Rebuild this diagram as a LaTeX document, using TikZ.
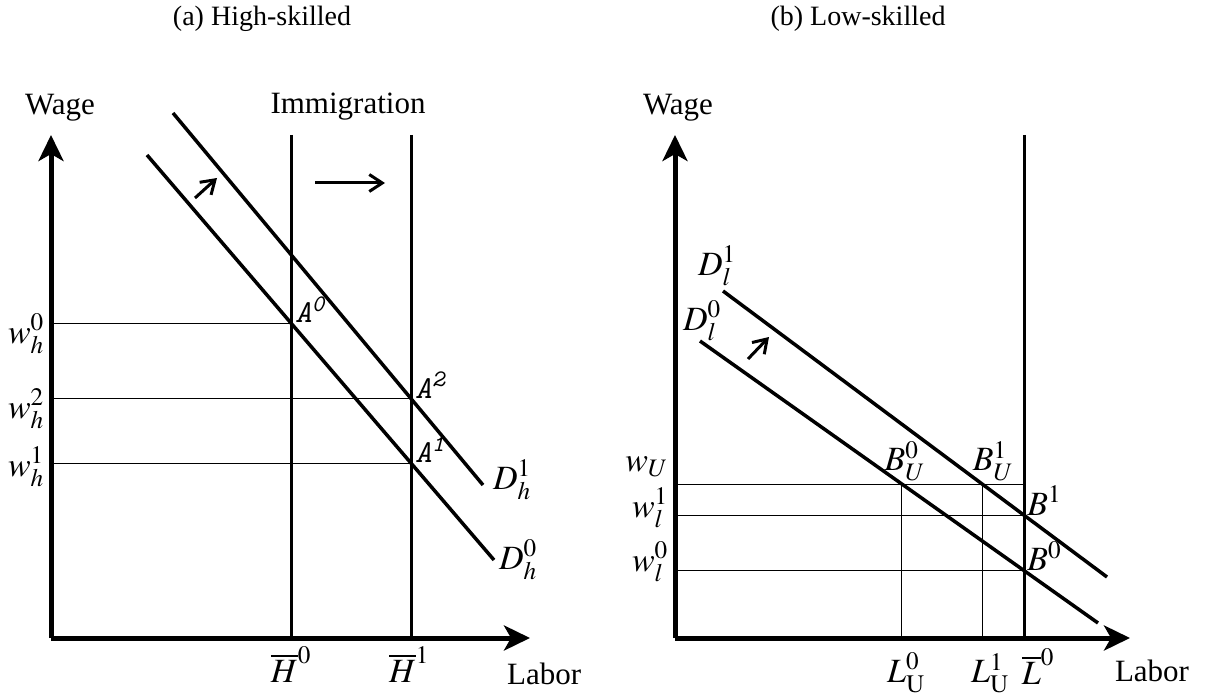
\documentclass[tikz,border=0pt]{standalone}
\usepackage{mathptmx}
\usepackage{fontspec}
\setmainfont{Liberation Serif}
\usetikzlibrary{arrows.meta, calc, positioning}
\tikzset{>=latex}
\tikzset{
  axisline/.style={line width=5pt, -{Stealth[length=26pt, width=25pt, inset=7pt]}},
  demand/.style={line width=3.5pt},
  stock/.style={line width=3pt},
  guide/.style={line width=1pt},
  shiftarrow/.style={line width=3pt, -{Straight Barb[length=13pt, width=17pt]}},
  lbl/.style={font=\fontsize{31}{36}\selectfont, inner sep=0pt},
  mlbl/.style={font=\fontsize{34}{38}\selectfont, inner sep=0pt},
  ttl/.style={font=\fontsize{28}{32}\selectfont, inner sep=0pt},
  pnt/.style={font=\fontsize{32}{36}\selectfont\ttfamily\itshape, inner sep=0pt, anchor=south west},
}

\begin{document}
\begin{tikzpicture}[x=1pt, y=-1pt]
  \useasboundingbox (0,0) rectangle (1208,698);
  % titles
  \node[ttl] (ttlA) at (262,19) {(a) High-skilled};
  \node[ttl] (ttlB) at (858,19) {(b) Low-skilled};

  % ---- (a) high-skilled
  \coordinate (oA) at (51,638);
  \coordinate (yA) at (51,135);
  \coordinate (xA) at (530,638);
  \coordinate (h0t) at (291,135);
  \coordinate (h0b) at (291,638);
  \coordinate (h1t) at (411,135);
  \coordinate (h1b) at (411,638);
  \coordinate (dh0s) at (147,155);
  \coordinate (dh0e) at (494,560);
  \coordinate (dh1s) at (173,113);
  \coordinate (dh1e) at (483,485);
  \coordinate (A0) at (intersection of dh0s--dh0e and h0t--h0b);
  \coordinate (A1) at (intersection of dh0s--dh0e and h1t--h1b);
  \coordinate (A2) at (intersection of dh1s--dh1e and h1t--h1b);

  \draw[guide] (A0 -| oA) -- (A0); %
  \draw[guide] (A2 -| oA) -- (A2); %
  \draw[guide] (A1 -| oA) -- (A1); %
  \draw[stock] (h0t) -- (h0b); %
  \draw[stock] (h1t) -- (h1b); %
  \draw[demand] (dh0s) -- (dh0e); %
  \draw[demand] (dh1s) -- (dh1e); %
  \draw[axisline] (oA) -- (yA); %
  \draw[axisline] (oA) -- (xA); %

  \node[lbl] (wageA) at (60,108) {Wage};
  \node[lbl, anchor=west] (laborA) at (507,674) {Labor};
  \node[lbl] (immig) at (348,107) {Immigration};
  \node[mlbl] (H0) at (291,665) {$\overline{H}^0$};
  \node[mlbl] (H1) at (409,665) {$\overline{H}^1$};
  \node[mlbl, anchor=east] (wh0) at (44,334) {$w_h^0$};
  \node[mlbl, anchor=east] (wh2) at (44,409) {$w_h^2$};
  \node[mlbl, anchor=east] (wh1) at (44,467) {$w_h^1$};
  \node[pnt] (lA0) at ($(A0)+(4,0)$) {A\textsuperscript{0}};
  \node[pnt] (lA2) at ($(A2)+(4,0)$) {A\textsuperscript{2}};
  \node[pnt] (lA1) at ($(A1)+(4,0)$) {A\textsuperscript{1}};
  \node[mlbl] (Dh1) at (512,480) {$D_h^1$};
  \node[mlbl] (Dh0) at (518,560) {$D_h^0$};

  \coordinate (mA) at (315,183);
  \coordinate (mB) at (385,183);
  \draw[shiftarrow] (mA) -- (mB); %
  \coordinate (sA) at (195,198);
  \coordinate (sB) at (217,178);
  \draw[shiftarrow] (sA) -- (sB); %

  % ---- (b) low-skilled
  \coordinate (oB) at (675,638);
  \coordinate (yB) at (675,135);
  \coordinate (xB) at (1130,638);
  \coordinate (lt) at (1024,135);
  \coordinate (lb) at (1024,638);
  \coordinate (dl0s) at (700,341);
  \coordinate (dl0e) at (1098,623);
  \coordinate (dl1s) at (723,291);
  \coordinate (dl1e) at (1107,577);
  \coordinate (wUa) at (675,484);
  \coordinate (wUb) at (1024,484);
  \coordinate (B0) at (intersection of dl0s--dl0e and lt--lb);
  \coordinate (B1) at (intersection of dl1s--dl1e and lt--lb);
  \coordinate (BU0) at (intersection of dl0s--dl0e and wUa--wUb);
  \coordinate (BU1) at (intersection of dl1s--dl1e and wUa--wUb);

  \draw[guide] (wUa) -- (wUb); %
  \draw[guide] (B1 -| oB) -- (B1); %
  \draw[guide] (B0 -| oB) -- (B0); %
  \draw[guide] (BU0) -- (BU0 |- oB); %
  \draw[guide] (BU1) -- (BU1 |- oB); %
  \draw[stock] (lt) -- (lb); %
  \draw[demand] (dl0s) -- (dl0e); %
  \draw[demand] (dl1s) -- (dl1e); %
  \draw[axisline] (oB) -- (yB); %
  \draw[axisline] (oB) -- (xB); %

  \node[lbl] (wageB) at (678,108) {Wage};
  \node[lbl] (laborB) at (1152,671) {Labor};
  \node[mlbl, anchor=east] (wU) at (668,467) {$w_U$};
  \node[mlbl, anchor=east] (wl1) at (668,508) {$w_l^1$};
  \node[mlbl, anchor=east] (wl0) at (668,562) {$w_l^0$};
  \node[mlbl] (LU0) at (906,673) {$L_{\mathrm{U}}^0$};
  \node[mlbl] (LU1) at (990,673) {$L_{\mathrm{U}}^1$};
  \node[mlbl] (Lbar) at (1038,667) {$\overline{L}^0$};
  \node[mlbl, anchor=south] (lBU0) at ($(BU0)+(3,-3)$) {$B_U^0$};
  \node[mlbl, anchor=south] (lBU1) at ($(BU1)+(11,-3)$) {$B_U^1$};
  \node[mlbl, anchor=south west] (lB1) at ($(B1)+(3,0)$) {$B^1$};
  \node[mlbl, anchor=south west] (lB0) at ($(B0)+(3,0)$) {$B^0$};
  \node[mlbl] (Dl1) at (717,266) {$D_l^1$};
  \node[mlbl] (Dl0) at (702,321) {$D_l^0$};

  \coordinate (sC) at (748,359);
  \coordinate (sD) at (769,337);
  \draw[shiftarrow] (sC) -- (sD); %
\end{tikzpicture}
\end{document}
